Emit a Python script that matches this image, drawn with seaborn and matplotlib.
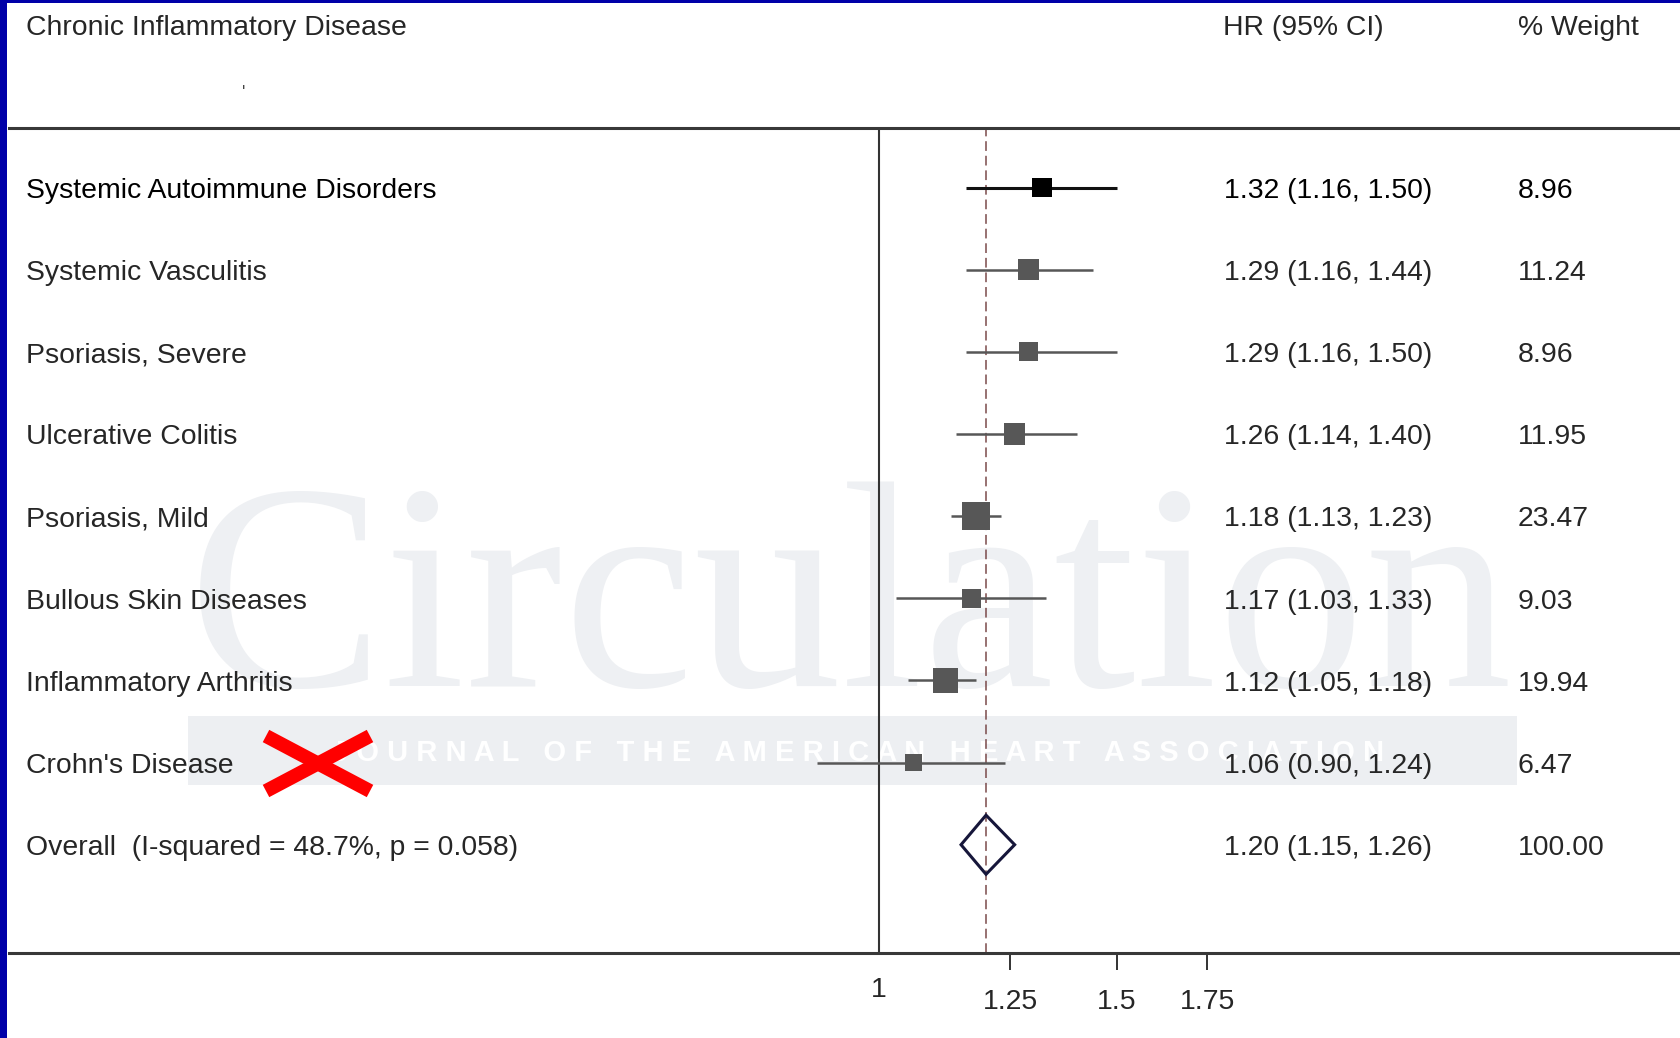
import numpy as np
import pandas as pd
import matplotlib
matplotlib.use("Agg")
import matplotlib.pyplot as plt
import matplotlib.transforms as mtransforms
from matplotlib.lines import Line2D
from matplotlib.patches import Rectangle
import seaborn as sns

# ---------------- data ----------------
studies = ["Systemic Autoimmune Disorders", "Systemic Vasculitis", "Psoriasis, Severe",
           "Ulcerative Colitis", "Psoriasis, Mild", "Bullous Skin Diseases",
           "Inflammatory Arthritis", "Crohn's Disease"]
hr = [1.32, 1.29, 1.29, 1.26, 1.18, 1.17, 1.12, 1.06]
ci_low = [1.16, 1.16, 1.16, 1.14, 1.13, 1.03, 1.05, 0.90]
ci_high = [1.50, 1.44, 1.50, 1.40, 1.23, 1.33, 1.18, 1.24]
weight = [8.96, 11.24, 8.96, 11.95, 23.47, 9.03, 19.94, 6.47]
overall_label = "Overall  (I-squared = 48.7%, p = 0.058)"
overall_hr, overall_low, overall_high, overall_weight = 1.20, 1.15, 1.26, 100.00
title_left = "Chronic Inflammatory Disease"
title_hr = "HR (95% CI)"
title_weight = "% Weight"
tick_values = [1.25, 1.5, 1.75]
tick_labels = ["1.25", "1.5", "1.75"]
null_value = [1]
null_label = ["1"]

# ---------------- figure ----------------
W, H, DPI = 1681, 1038, 100
sns.set_theme(style="white")
plt.rcParams["font.family"] = ["Liberation Sans", "DejaVu Sans"]
plt.rcParams["lines.scale_dashes"] = False

fig = plt.figure(figsize=(W / DPI, H / DPI), dpi=DPI)
fig.patch.set_facecolor("white")


def fx(px):
    return px / W


def fy(py):
    return 1 - py / H


AX_L, AX_R, AX_T, AX_B = 9, 1681, 127.5, 953
ax = fig.add_axes([fx(AX_L), fy(AX_B), (AX_R - AX_L) / W, (AX_B - AX_T) / H])
ax.set_facecolor("none")

FS = 20.4
TXT = "#262626"
EM_PX = FS * DPI / 72
ROW_PX = 82.14
ROW0_PX = 187.6
base_off = 0.36 * EM_PX / ROW_PX  # baseline offset (row units)

n = len(studies)
rows = list(range(n))
overall_row = n

df = pd.DataFrame({"hr": hr, "row": rows, "weight": weight,
                   "grp": ["first"] + ["rest"] * (n - 1)})

# watermark (behind everything)
ax.add_patch(Rectangle((fx(188), fy(785)), fx(1517) - fx(188), fy(716) - fy(785),
                       transform=fig.transFigure, facecolor="#edeff2", edgecolor="none", zorder=0.1))
ax.text(fx(188), fy(686), "Circulation", transform=fig.transFigure, fontsize=212,
        family=["Liberation Serif", "DejaVu Serif"], color="#eef0f3", va="baseline",
        ha="left", zorder=0.05)
ax.text(fx(858), fy(753), "J O U R N A L   O F   T H E   A M E R I C A N   H E A R T   A S S O C I A T I O N",
        transform=fig.transFigure, fontsize=21, fontweight="bold", color="white",
        ha="center", va="center", zorder=0.2)

# reference lines
ax.axvline(null_value[0], color="#333333", lw=1.5, zorder=2)
ax.axvline(overall_hr, color="#7a4a4a", lw=1.1, dashes=(7, 3.5), zorder=2)

# confidence intervals
ax.hlines(rows, ci_low, ci_high, colors=["#111111"] + ["#575757"] * (n - 1),
          linewidths=[2.2] + [1.8] * (n - 1), zorder=3)

# weighted squares
sns.scatterplot(data=df, x="hr", y="row", hue="grp",
                palette={"first": "#000000", "rest": "#575757"},
                size="weight", sizes=(65, 1450), size_norm=(0, 100),
                marker="s", linewidth=0, legend=False, ax=ax, zorder=4)

# overall diamond
dh = 0.36
ax.fill([overall_low, overall_hr, overall_high, overall_hr],
        [overall_row, overall_row - dh, overall_row, overall_row + dh],
        facecolor="none", edgecolor="#16163a", lw=2.2, zorder=5)

# scales
ax.set_xscale("log")
ax.set_xlim(np.exp((AX_L - 879) / 587), np.exp((AX_R - 879) / 587))
ytop = -(ROW0_PX - AX_T) / ROW_PX
ybot = (AX_B - ROW0_PX) / ROW_PX
ax.set_ylim(ybot, ytop)
ax.set_yticks([])
ax.set_xlabel("")
ax.set_ylabel("")
ax.set_xticks(tick_values, labels=tick_labels)
ax.set_xticks(null_value, labels=null_label, minor=True)
ax.tick_params(axis="x", which="major", bottom=True, direction="out", length=12.2,
               width=1.4, color="#333333", pad=13.5, labelsize=FS, labelcolor=TXT)
ax.tick_params(axis="x", which="minor", bottom=True, length=0, pad=17.5,
               labelsize=FS, labelcolor=TXT)
ax.tick_params(axis="y", left=False, labelleft=False)
for s in ["left", "right"]:
    ax.spines[s].set_visible(False)
for s in ["top", "bottom"]:
    ax.spines[s].set_visible(True)
    ax.spines[s].set_color("#383838")
    ax.spines[s].set_linewidth(2.2)

# row texts
tr = mtransforms.blended_transform_factory(fig.transFigure, ax.transData)
for i in range(n):
    col = "#000000" if i == 0 else TXT
    ax.text(fx(26), rows[i] + base_off, studies[i], transform=tr, fontsize=FS,
            color=col, va="baseline", ha="left")
    ax.text(fx(1224), rows[i] + base_off, f"{hr[i]:.2f} ({ci_low[i]:.2f}, {ci_high[i]:.2f})",
            transform=tr, fontsize=FS, color=col, va="baseline", ha="left")
    ax.text(fx(1518), rows[i] + base_off, f"{weight[i]:.2f}", transform=tr,
            fontsize=FS, color=col, va="baseline", ha="left")
ax.text(fx(26), overall_row + base_off, overall_label, transform=tr, fontsize=FS,
        color=TXT, va="baseline", ha="left")
ax.text(fx(1224), overall_row + base_off,
        f"{overall_hr:.2f} ({overall_low:.2f}, {overall_high:.2f})", transform=tr,
        fontsize=FS, color=TXT, va="baseline", ha="left")
ax.text(fx(1518), overall_row + base_off, f"{overall_weight:.2f}", transform=tr,
        fontsize=FS, color=TXT, va="baseline", ha="left")

# headers
hb = 25 + 0.36 * EM_PX
fig.text(fx(26), fy(hb), title_left, fontsize=FS, color=TXT, va="baseline", ha="left")
fig.text(fx(1223), fy(hb), title_hr, fontsize=FS, color=TXT, va="baseline", ha="left")
fig.text(fx(1518), fy(hb), title_weight, fontsize=FS, color=TXT, va="baseline", ha="left")
fig.text(fx(244), fy(98), "'", fontsize=13, color="#444444", va="baseline", ha="center")

# red cross annotation
X_BOX = (266, 370, 736, 791)
x0, x1, y0, y1 = X_BOX
for (a, b) in [((x0, y0), (x1, y1)), ((x0, y1), (x1, y0))]:
    fig.add_artist(Line2D([fx(a[0]), fx(b[0])], [fy(a[1]), fy(b[1])],
                          transform=fig.transFigure, color="#ff0000", lw=10,
                          solid_capstyle="butt", zorder=6))

# slide border
fig.add_artist(Rectangle((0, 0), fx(7), 1, transform=fig.transFigure,
                         facecolor="#0000a8", edgecolor="none", zorder=10))
fig.add_artist(Rectangle((0, fy(3)), 1, fy(0) - fy(3), transform=fig.transFigure,
                         facecolor="#0000a8", edgecolor="none", zorder=10))

fig.savefig("out.png", dpi=DPI)
